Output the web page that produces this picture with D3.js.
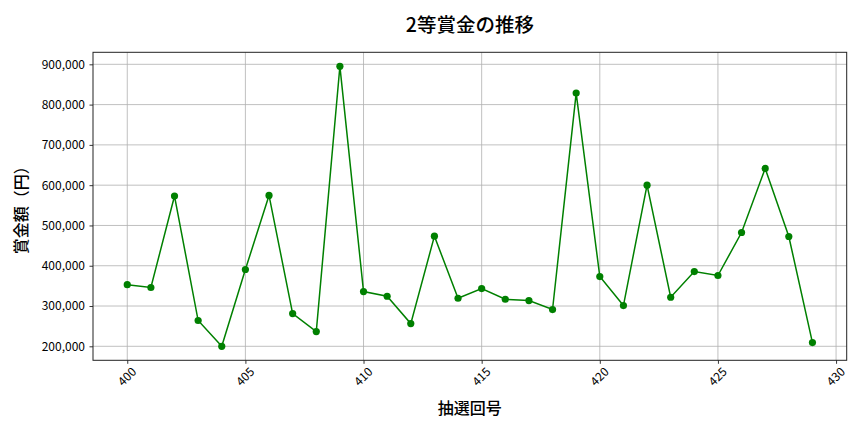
<!DOCTYPE html>
<html><head><meta charset="utf-8">
<script src="https://cdn.jsdelivr.net/npm/d3@7"></script>
<style>body{margin:0;background:#fff}svg{display:block}</style>
</head><body><svg id="c" width="864" height="432"></svg>
<script>
const draws = [400,401,402,403,404,405,406,407,408,409,410,411,412,413,414,415,416,417,418,419,420,421,422,423,424,425,426,427,428,429];
const prizes = [353000,346000,573000,264000,200000,390600,574500,281300,236500,895100,335900,324300,256400,473400,319300,343400,316800,313500,291200,828700,373200,301100,600100,321800,385600,375700,482500,641600,472600,209200];
const xTicks = [400,405,410,415,420,425,430];
const yTicks = [200000,300000,400000,500000,600000,700000,800000,900000];
const title = "2等賞金の推移";
const xLabel = "抽選回号";
const yLabel = "賞金額（円）";

const font = "'Noto Sans CJK JP','Noto Sans',sans-serif";
const svg = d3.select("#c");
const L=93, R=846.7, T=52.3, B=360.3;
const xmin=d3.min(draws), xmax=d3.max(draws), xm=(xmax-xmin)*0.05;
const ymin=d3.min(prizes), ymax=d3.max(prizes), ym=(ymax-ymin)*0.05;
const x=d3.scaleLinear().domain([xmin-xm,xmax+xm]).range([L,R]);
const y=d3.scaleLinear().domain([ymin-ym,ymax+ym]).range([B,T]);

// grid
const g=svg.append("g");
g.selectAll("line.gx").data(xTicks).join("line")
 .attr("x1",d=>x(d)).attr("x2",d=>x(d)).attr("y1",T).attr("y2",B)
 .attr("stroke","#b0b0b0").attr("stroke-width",0.8);
g.selectAll("line.gy").data(yTicks).join("line").attr("class","gy")
 .attr("y1",d=>y(d)).attr("y2",d=>y(d)).attr("x1",L).attr("x2",R)
 .attr("stroke","#b0b0b0").attr("stroke-width",0.8);

// axes
const fmt=d3.format(",");
const xa=svg.append("g").attr("transform",`translate(0,${B})`)
 .call(d3.axisBottom(x).tickValues(xTicks).tickSize(3.5).tickFormat(d3.format("d")));
xa.select(".domain").remove();
xa.selectAll("text").attr("font-family",font).attr("font-size",12).attr("fill","#000")
 .attr("text-anchor","middle").attr("dy",null).attr("y",0)
 .attr("transform","translate(0,17) rotate(-45)").attr("dominant-baseline","middle");
const ya=svg.append("g").attr("transform",`translate(${L},0)`)
 .call(d3.axisLeft(y).tickValues(yTicks).tickSize(3.5).tickFormat(fmt));
ya.select(".domain").remove();
ya.selectAll("text").attr("font-family",font).attr("font-size",12).attr("fill","#000").attr("x",-8);
svg.selectAll(".tick line").attr("stroke","#000").attr("stroke-width",0.8);

// spines
svg.append("rect").attr("x",L).attr("y",T).attr("width",R-L).attr("height",B-T)
 .attr("fill","none").attr("stroke","#222").attr("stroke-width",1);

// line
svg.append("path").datum(draws.map((d,i)=>[d,prizes[i]]))
 .attr("d",d3.line().x(d=>x(d[0])).y(d=>y(d[1])))
 .attr("fill","none").attr("stroke","#008000").attr("stroke-width",1.5);
svg.selectAll("circle.pt").data(draws.map((d,i)=>[d,prizes[i]])).join("circle")
 .attr("cx",d=>x(d[0])).attr("cy",d=>y(d[1])).attr("r",3.6).attr("fill","#008000");

// labels
svg.append("text").attr("x",(L+R)/2).attr("y",31.5).attr("text-anchor","middle")
 .attr("font-family",font).attr("font-size",19.5).attr("font-weight",500).text(title);
svg.append("text").attr("x",(L+R)/2).attr("y",414).attr("text-anchor","middle")
 .attr("font-family",font).attr("font-size",16).attr("font-weight",500).text(xLabel);
svg.append("text").attr("transform",`translate(27,${(T+B)/2}) rotate(-90)`).attr("text-anchor","middle")
 .attr("font-family",font).attr("font-size",16).attr("font-weight",500).text(yLabel);
</script></body></html>
